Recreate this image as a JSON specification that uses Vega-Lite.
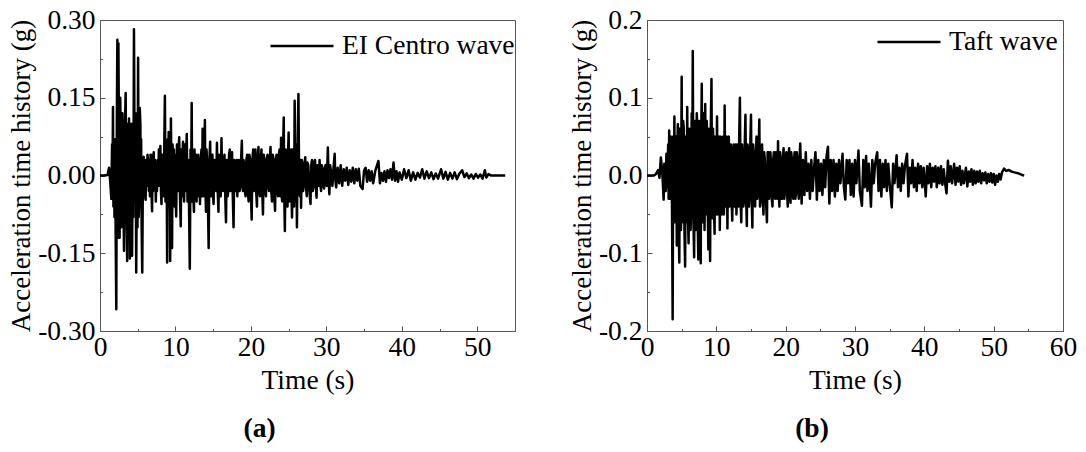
{
  "$schema": "https://vega.github.io/schema/vega-lite/v6.json",
  "background": "white",
  "padding": {"left": 7, "top": 5, "right": 0, "bottom": 0},
  "datasets": {
    "elcentro": [
      {"t":0,"a":0},{"t":0.5,"a":0},{"t":1.0,"a":0.001},{"t":1.2,"a":0.015},{"t":1.35,"a":-0.01},{"t":1.5,"a":-0.045},
      {"t":1.6,"a":0.06},{"t":1.65,"a":-0.03},{"t":1.72,"a":0.132},{"t":1.78,"a":-0.06},{"t":1.85,"a":0.04},{"t":1.92,"a":-0.08},
      {"t":2.0,"a":0.07},{"t":2.08,"a":-0.12},{"t":2.16,"a":-0.258},{"t":2.23,"a":0.1},{"t":2.3,"a":0.262},{"t":2.38,"a":-0.12},
      {"t":2.44,"a":0.255},{"t":2.52,"a":0.05},{"t":2.6,"a":-0.12},{"t":2.68,"a":0.15},{"t":2.75,"a":0.07},{"t":2.82,"a":-0.1},
      {"t":2.9,"a":-0.04},{"t":2.97,"a":0.12},{"t":3.05,"a":0.06},{"t":3.12,"a":-0.06},{"t":3.18,"a":-0.145},{"t":3.28,"a":0.08},
      {"t":3.4,"a":0.159},{"t":3.5,"a":-0.05},{"t":3.6,"a":-0.165},{"t":3.68,"a":0.1},{"t":3.75,"a":0.02},{"t":3.85,"a":0.11},
      {"t":3.96,"a":-0.16},{"t":4.03,"a":0.08},{"t":4.1,"a":0.04},{"t":4.18,"a":0.1},{"t":4.25,"a":-0.155},{"t":4.35,"a":0.05},
      {"t":4.42,"a":-0.08},{"t":4.5,"a":0.282},{"t":4.58,"a":0.06},{"t":4.65,"a":-0.05},{"t":4.72,"a":0.12},{"t":4.8,"a":-0.187},
      {"t":4.9,"a":0.05},{"t":4.97,"a":-0.1},{"t":5.05,"a":0.227},{"t":5.12,"a":-0.08},{"t":5.2,"a":-0.05},{"t":5.27,"a":0.13},
      {"t":5.35,"a":0.1},{"t":5.4,"a":-0.06},{"t":5.45,"a":0.07},{"t":5.52,"a":-0.1},{"t":5.6,"a":-0.187},{"t":5.7,"a":0.03},
      {"t":5.8,"a":0.036},{"t":5.85,"a":-0.03},{"t":5.9,"a":0.02},{"t":5.97,"a":-0.04},{"t":6.05,"a":-0.047},{"t":6.12,"a":0.03},
      {"t":6.2,"a":-0.02},{"t":6.3,"a":0.04},{"t":6.4,"a":0.02},{"t":6.48,"a":-0.03},{"t":6.55,"a":0.03},{"t":6.62,"a":-0.04},
      {"t":6.7,"a":0.04},{"t":6.8,"a":-0.02},{"t":6.9,"a":-0.069},{"t":6.98,"a":0.04},{"t":7.05,"a":-0.03},{"t":7.12,"a":0.045},
      {"t":7.2,"a":-0.01},{"t":7.3,"a":0.03},{"t":7.4,"a":-0.05},{"t":7.48,"a":0.02},{"t":7.55,"a":-0.03},{"t":7.65,"a":0.03},
      {"t":7.72,"a":-0.02},{"t":7.8,"a":0.05},{"t":7.9,"a":-0.02},{"t":8.0,"a":0.057},{"t":8.08,"a":-0.03},{"t":8.15,"a":-0.055},
      {"t":8.22,"a":0.04},{"t":8.3,"a":-0.02},{"t":8.38,"a":0.03},{"t":8.45,"a":-0.04},{"t":8.52,"a":0.06},{"t":8.6,"a":0.154},
      {"t":8.68,"a":-0.05},{"t":8.75,"a":0.02},{"t":8.82,"a":0.06},{"t":8.9,"a":-0.168},{"t":8.97,"a":0.07},{"t":9.05,"a":-0.06},
      {"t":9.1,"a":0.084},{"t":9.18,"a":-0.05},{"t":9.25,"a":0.05},{"t":9.3,"a":-0.165},{"t":9.4,"a":0.11},{"t":9.48,"a":-0.05},
      {"t":9.55,"a":-0.14},{"t":9.62,"a":0.06},{"t":9.7,"a":-0.04},{"t":9.8,"a":0.05},{"t":9.88,"a":-0.06},{"t":9.95,"a":0.04},
      {"t":10.02,"a":-0.03},{"t":10.1,"a":-0.079},{"t":10.2,"a":0.06},{"t":10.3,"a":-0.03},{"t":10.4,"a":0.05},{"t":10.5,"a":0.074},
      {"t":10.6,"a":-0.04},{"t":10.7,"a":-0.098},{"t":10.78,"a":0.05},{"t":10.85,"a":-0.04},{"t":10.92,"a":0.03},{"t":11.0,"a":0.065},
      {"t":11.08,"a":-0.03},{"t":11.15,"a":-0.05},{"t":11.22,"a":0.06},{"t":11.3,"a":-0.03},{"t":11.4,"a":0.04},{"t":11.5,"a":0.08},
      {"t":11.6,"a":-0.05},{"t":11.7,"a":0.03},{"t":11.8,"a":-0.06},{"t":11.9,"a":-0.18},{"t":12.0,"a":0.05},{"t":12.08,"a":-0.02},
      {"t":12.15,"a":0.14},{"t":12.22,"a":-0.05},{"t":12.3,"a":0.03},{"t":12.38,"a":-0.04},{"t":12.45,"a":-0.07},{"t":12.52,"a":0.05},
      {"t":12.6,"a":-0.03},{"t":12.7,"a":0.04},{"t":12.8,"a":-0.05},{"t":12.88,"a":0.03},{"t":12.95,"a":-0.03},{"t":13.02,"a":0.04},
      {"t":13.1,"a":-0.04},{"t":13.18,"a":0.02},{"t":13.25,"a":-0.055},{"t":13.35,"a":0.03},{"t":13.45,"a":0.05},{"t":13.52,"a":-0.04},
      {"t":13.6,"a":0.09},{"t":13.68,"a":-0.04},{"t":13.75,"a":0.03},{"t":13.82,"a":-0.03},{"t":13.9,"a":0.107},{"t":13.98,"a":-0.03},
      {"t":14.05,"a":-0.07},{"t":14.12,"a":0.05},{"t":14.2,"a":0.02},{"t":14.3,"a":-0.05},{"t":14.4,"a":-0.14},{"t":14.5,"a":0.03},
      {"t":14.6,"a":0.065},{"t":14.68,"a":-0.04},{"t":14.75,"a":0.03},{"t":14.82,"a":-0.02},{"t":14.9,"a":0.04},{"t":14.98,"a":-0.04},
      {"t":15.05,"a":-0.055},{"t":15.15,"a":0.03},{"t":15.22,"a":-0.02},{"t":15.3,"a":0.03},{"t":15.4,"a":-0.03},{"t":15.5,"a":0.063},
      {"t":15.6,"a":-0.03},{"t":15.7,"a":-0.07},{"t":15.8,"a":0.04},{"t":15.9,"a":0.03},{"t":16.0,"a":-0.04},{"t":16.1,"a":0.072},
      {"t":16.2,"a":-0.02},{"t":16.3,"a":-0.03},{"t":16.4,"a":0.03},{"t":16.5,"a":0.04},{"t":16.6,"a":-0.04},{"t":16.7,"a":-0.09},
      {"t":16.78,"a":0.03},{"t":16.85,"a":0.01},{"t":16.92,"a":-0.04},{"t":17.0,"a":-0.03},{"t":17.1,"a":0.04},{"t":17.2,"a":0.05},
      {"t":17.28,"a":-0.03},{"t":17.35,"a":-0.02},{"t":17.42,"a":0.03},{"t":17.5,"a":0.045},{"t":17.6,"a":-0.04},{"t":17.7,"a":-0.1},
      {"t":17.8,"a":0.03},{"t":17.9,"a":0.02},{"t":17.98,"a":-0.03},{"t":18.05,"a":-0.01},{"t":18.12,"a":0.03},{"t":18.2,"a":-0.04},
      {"t":18.3,"a":0.02},{"t":18.4,"a":0.03},{"t":18.5,"a":-0.03},{"t":18.6,"a":-0.02},{"t":18.7,"a":0.03},{"t":18.8,"a":0.067},
      {"t":18.88,"a":-0.02},{"t":18.95,"a":-0.03},{"t":19.02,"a":0.03},{"t":19.1,"a":0.02},{"t":19.2,"a":-0.03},{"t":19.3,"a":-0.04},
      {"t":19.4,"a":0.03},{"t":19.5,"a":0.04},{"t":19.6,"a":-0.03},{"t":19.7,"a":-0.05},{"t":19.8,"a":0.04},{"t":19.9,"a":0.03},
      {"t":20.0,"a":-0.03},{"t":20.1,"a":-0.085},{"t":20.2,"a":0.03},{"t":20.3,"a":0.05},{"t":20.38,"a":-0.03},{"t":20.45,"a":-0.02},
      {"t":20.52,"a":0.03},{"t":20.6,"a":0.05},{"t":20.7,"a":-0.03},{"t":20.8,"a":-0.06},{"t":20.9,"a":0.03},{"t":21.0,"a":0.055},
      {"t":21.1,"a":-0.03},{"t":21.2,"a":-0.04},{"t":21.3,"a":0.03},{"t":21.4,"a":0.05},{"t":21.5,"a":-0.03},{"t":21.6,"a":-0.075},
      {"t":21.7,"a":0.04},{"t":21.8,"a":0.03},{"t":21.9,"a":-0.03},{"t":22.0,"a":-0.04},{"t":22.1,"a":0.03},{"t":22.2,"a":0.04},
      {"t":22.3,"a":-0.02},{"t":22.4,"a":-0.03},{"t":22.5,"a":0.03},{"t":22.6,"a":0.055},{"t":22.7,"a":-0.03},{"t":22.8,"a":-0.05},
      {"t":22.9,"a":0.04},{"t":23.0,"a":0.03},{"t":23.1,"a":-0.04},{"t":23.2,"a":-0.068},{"t":23.3,"a":0.03},{"t":23.4,"a":0.04},
      {"t":23.5,"a":-0.03},{"t":23.6,"a":-0.04},{"t":23.7,"a":0.04},{"t":23.8,"a":0.05},{"t":23.9,"a":-0.04},{"t":24.0,"a":0.073},
      {"t":24.08,"a":-0.04},{"t":24.15,"a":-0.05},{"t":24.25,"a":0.04},{"t":24.35,"a":0.112},{"t":24.42,"a":-0.04},{"t":24.5,"a":-0.107},
      {"t":24.6,"a":0.05},{"t":24.7,"a":0.03},{"t":24.78,"a":-0.04},{"t":24.85,"a":-0.06},{"t":24.92,"a":0.04},{"t":25.0,"a":0.083},
      {"t":25.08,"a":-0.05},{"t":25.15,"a":-0.03},{"t":25.22,"a":0.04},{"t":25.3,"a":0.05},{"t":25.38,"a":-0.04},{"t":25.45,"a":-0.081},
      {"t":25.55,"a":0.05},{"t":25.65,"a":0.03},{"t":25.72,"a":-0.06},{"t":25.8,"a":0.144},{"t":25.88,"a":-0.05},{"t":25.95,"a":-0.04},
      {"t":26.02,"a":0.06},{"t":26.1,"a":-0.1},{"t":26.2,"a":0.07},{"t":26.3,"a":0.157},{"t":26.4,"a":-0.03},{"t":26.5,"a":-0.04},
      {"t":26.58,"a":0.03},{"t":26.65,"a":-0.062},{"t":26.75,"a":0.03},{"t":26.85,"a":0.02},{"t":26.92,"a":-0.03},{"t":27.0,"a":-0.02},
      {"t":27.1,"a":0.02},{"t":27.2,"a":0.035},{"t":27.3,"a":-0.02},{"t":27.4,"a":-0.04},{"t":27.5,"a":0.025},{"t":27.6,"a":0.02},
      {"t":27.75,"a":-0.03},{"t":27.9,"a":-0.055},{"t":28.0,"a":0.02},{"t":28.1,"a":0.03},{"t":28.2,"a":-0.03},{"t":28.3,"a":-0.02},
      {"t":28.4,"a":0.025},{"t":28.5,"a":0.03},{"t":28.6,"a":-0.02},{"t":28.7,"a":-0.043},{"t":28.8,"a":0.02},{"t":28.9,"a":0.02},
      {"t":29.0,"a":-0.02},{"t":29.1,"a":0.03},{"t":29.2,"a":-0.015},{"t":29.3,"a":-0.03},{"t":29.4,"a":0.02},{"t":29.5,"a":0.01},
      {"t":29.6,"a":-0.02},{"t":29.7,"a":-0.025},{"t":29.8,"a":0.015},{"t":29.9,"a":0.02},{"t":30.05,"a":-0.02},{"t":30.2,"a":0.054},
      {"t":30.3,"a":-0.01},{"t":30.4,"a":-0.036},{"t":30.5,"a":0.02},{"t":30.6,"a":0.01},{"t":30.7,"a":-0.015},{"t":30.8,"a":-0.02},
      {"t":30.95,"a":0.015},{"t":31.1,"a":0.042},{"t":31.2,"a":-0.01},{"t":31.3,"a":-0.023},{"t":31.5,"a":0.015},
      {"t":31.7,"a":-0.015},{"t":31.9,"a":0.02},{"t":32.1,"a":-0.02},{"t":32.3,"a":0.012},{"t":32.5,"a":-0.01},{"t":32.7,"a":0.015},
      {"t":32.9,"a":-0.018},{"t":33.1,"a":0.01},{"t":33.3,"a":-0.012},{"t":33.5,"a":0.015},{"t":33.7,"a":-0.015},{"t":33.9,"a":0.012},
      {"t":34.1,"a":-0.01},{"t":34.3,"a":0.013},{"t":34.5,"a":-0.02},{"t":34.8,"a":-0.026},{"t":35.0,"a":0.01},{"t":35.2,"a":0.015},
      {"t":35.4,"a":-0.012},{"t":35.6,"a":0.01},{"t":35.8,"a":-0.01},{"t":36.0,"a":0.008},{"t":36.2,"a":-0.015},{"t":36.5,"a":0.01},
      {"t":36.9,"a":0.028},{"t":37.1,"a":-0.015},{"t":37.3,"a":0.005},{"t":37.5,"a":-0.01},{"t":37.7,"a":0.008},{"t":37.9,"a":-0.012},
      {"t":38.1,"a":0.01},{"t":38.3,"a":-0.005},{"t":38.5,"a":0.012},{"t":38.7,"a":-0.008},{"t":38.9,"a":0.025},{"t":39.1,"a":-0.01},
      {"t":39.3,"a":0.008},{"t":39.5,"a":-0.012},{"t":39.7,"a":0.006},{"t":40.0,"a":-0.008},{"t":40.3,"a":0.012},{"t":40.6,"a":-0.005},
      {"t":40.9,"a":0.01},{"t":41.2,"a":-0.01},{"t":41.5,"a":0.006},{"t":41.8,"a":-0.008},{"t":42.1,"a":0.005},{"t":42.4,"a":-0.004},
      {"t":42.7,"a":0.012},{"t":43.0,"a":-0.006},{"t":43.3,"a":0.008},{"t":43.6,"a":-0.005},{"t":43.9,"a":0.006},{"t":44.2,"a":-0.007},
      {"t":44.5,"a":0.004},{"t":44.8,"a":-0.006},{"t":45.2,"a":0.012},{"t":45.5,"a":-0.006},{"t":45.8,"a":0.007},{"t":46.1,"a":-0.008},
      {"t":46.4,"a":0.005},{"t":46.7,"a":-0.006},{"t":47.0,"a":0.006},{"t":47.3,"a":-0.007},{"t":47.6,"a":0.003},{"t":48.0,"a":0.01},
      {"t":48.3,"a":-0.003},{"t":48.6,"a":0.004},{"t":48.9,"a":-0.005},{"t":49.2,"a":0.002},{"t":49.5,"a":-0.006},{"t":49.8,"a":0.003},
      {"t":50.1,"a":-0.004},{"t":50.4,"a":0.002},{"t":50.7,"a":-0.006},{"t":51.0,"a":0.01},{"t":51.2,"a":-0.004},{"t":51.5,"a":0.003},
      {"t":51.8,"a":0.0},{"t":52.5,"a":0.0},{"t":53.7,"a":0.0}
    ],
    "taft": [
      {"t":0,"a":0},{"t":1.0,"a":0},{"t":1.3,"a":0.002},{"t":1.6,"a":0.007},{"t":1.8,"a":-0.003},{"t":2.0,"a":0.023},
      {"t":2.2,"a":0.005},{"t":2.4,"a":-0.031},{"t":2.5,"a":0.015},{"t":2.6,"a":0.01},{"t":2.7,"a":-0.02},{"t":2.8,"a":0.028},
      {"t":2.88,"a":-0.015},{"t":2.95,"a":-0.01},{"t":3.05,"a":0.04},{"t":3.12,"a":-0.03},{"t":3.2,"a":0.058},{"t":3.3,"a":-0.03},
      {"t":3.4,"a":-0.02},{"t":3.48,"a":0.05},{"t":3.55,"a":0.03},{"t":3.62,"a":-0.06},{"t":3.7,"a":-0.185},{"t":3.78,"a":0.05},
      {"t":3.87,"a":-0.04},{"t":3.95,"a":0.076},{"t":4.03,"a":-0.06},{"t":4.1,"a":-0.04},{"t":4.2,"a":0.05},{"t":4.3,"a":-0.09},
      {"t":4.38,"a":0.04},{"t":4.45,"a":0.066},{"t":4.55,"a":-0.05},{"t":4.66,"a":-0.112},{"t":4.73,"a":0.06},{"t":4.8,"a":0.03},
      {"t":4.9,"a":-0.07},{"t":5.0,"a":0.127},{"t":5.08,"a":-0.06},{"t":5.15,"a":-0.04},{"t":5.22,"a":0.07},{"t":5.3,"a":0.06},
      {"t":5.4,"a":-0.07},{"t":5.5,"a":-0.117},{"t":5.58,"a":0.05},{"t":5.65,"a":0.02},{"t":5.72,"a":-0.06},{"t":5.8,"a":0.088},
      {"t":5.9,"a":-0.05},{"t":6.0,"a":-0.087},{"t":6.1,"a":0.06},{"t":6.2,"a":0.04},{"t":6.28,"a":-0.07},{"t":6.35,"a":-0.05},
      {"t":6.45,"a":0.08},{"t":6.52,"a":-0.04},{"t":6.6,"a":0.16},{"t":6.7,"a":-0.06},{"t":6.8,"a":-0.105},{"t":6.88,"a":0.07},
      {"t":6.95,"a":0.05},{"t":7.02,"a":-0.07},{"t":7.1,"a":-0.03},{"t":7.18,"a":0.08},{"t":7.25,"a":0.06},{"t":7.32,"a":-0.06},
      {"t":7.4,"a":-0.108},{"t":7.5,"a":0.07},{"t":7.6,"a":0.03},{"t":7.68,"a":-0.06},{"t":7.75,"a":-0.113},{"t":7.82,"a":0.05},
      {"t":7.9,"a":0.118},{"t":7.98,"a":-0.06},{"t":8.05,"a":-0.03},{"t":8.12,"a":0.08},{"t":8.2,"a":0.05},{"t":8.3,"a":-0.07},
      {"t":8.4,"a":0.092},{"t":8.48,"a":-0.05},{"t":8.55,"a":-0.04},{"t":8.62,"a":0.07},{"t":8.7,"a":0.04},{"t":8.78,"a":-0.05},
      {"t":8.85,"a":-0.095},{"t":8.92,"a":0.06},{"t":9.0,"a":0.05},{"t":9.05,"a":-0.06},{"t":9.1,"a":-0.11},{"t":9.2,"a":0.06},
      {"t":9.3,"a":0.124},{"t":9.38,"a":-0.04},{"t":9.45,"a":-0.055},{"t":9.52,"a":0.06},{"t":9.6,"a":0.02},{"t":9.68,"a":-0.05},
      {"t":9.75,"a":-0.075},{"t":9.82,"a":0.05},{"t":9.9,"a":0.04},{"t":10.0,"a":-0.05},{"t":10.1,"a":0.076},{"t":10.2,"a":-0.05},
      {"t":10.3,"a":-0.03},{"t":10.4,"a":0.05},{"t":10.5,"a":-0.07},{"t":10.6,"a":0.05},{"t":10.7,"a":0.03},{"t":10.78,"a":-0.05},
      {"t":10.85,"a":-0.01},{"t":10.92,"a":0.05},{"t":11.0,"a":0.05},{"t":11.1,"a":-0.05},{"t":11.2,"a":0.09},{"t":11.3,"a":-0.03},
      {"t":11.4,"a":-0.04},{"t":11.5,"a":0.05},{"t":11.6,"a":-0.068},{"t":11.7,"a":0.04},{"t":11.8,"a":0.05},{"t":11.9,"a":-0.04},
      {"t":12.0,"a":0.02},{"t":12.1,"a":0.04},{"t":12.2,"a":-0.03},{"t":12.3,"a":-0.058},{"t":12.4,"a":0.03},{"t":12.5,"a":0.04},
      {"t":12.6,"a":-0.04},{"t":12.7,"a":-0.02},{"t":12.8,"a":0.04},{"t":12.9,"a":-0.05},{"t":13.0,"a":0.04},{"t":13.1,"a":0.03},
      {"t":13.2,"a":-0.04},{"t":13.3,"a":0.05},{"t":13.4,"a":0.1},{"t":13.5,"a":-0.03},{"t":13.6,"a":-0.06},{"t":13.7,"a":0.04},
      {"t":13.8,"a":0.02},{"t":13.9,"a":-0.04},{"t":14.0,"a":-0.03},{"t":14.1,"a":0.04},{"t":14.2,"a":0.078},{"t":14.3,"a":-0.03},
      {"t":14.4,"a":-0.065},{"t":14.5,"a":0.04},{"t":14.6,"a":0.03},{"t":14.7,"a":-0.04},{"t":14.8,"a":-0.02},{"t":14.9,"a":0.04},
      {"t":15.0,"a":0.078},{"t":15.1,"a":-0.03},{"t":15.2,"a":-0.067},{"t":15.3,"a":0.04},{"t":15.4,"a":0.02},{"t":15.5,"a":-0.03},
      {"t":15.6,"a":-0.04},{"t":15.7,"a":0.03},{"t":15.8,"a":0.05},{"t":15.9,"a":-0.03},{"t":16.0,"a":-0.02},{"t":16.1,"a":0.03},
      {"t":16.2,"a":0.072},{"t":16.3,"a":-0.04},{"t":16.4,"a":-0.03},{"t":16.5,"a":0.03},{"t":16.6,"a":0.04},{"t":16.7,"a":-0.03},
      {"t":16.8,"a":-0.05},{"t":16.9,"a":0.03},{"t":17.0,"a":0.02},{"t":17.15,"a":-0.03},{"t":17.3,"a":-0.06},{"t":17.4,"a":0.03},
      {"t":17.5,"a":0.03},{"t":17.6,"a":-0.03},{"t":17.7,"a":-0.02},{"t":17.8,"a":0.03},{"t":17.9,"a":0.01},{"t":18.0,"a":-0.03},
      {"t":18.1,"a":-0.04},{"t":18.2,"a":0.02},{"t":18.3,"a":0.03},{"t":18.4,"a":-0.02},{"t":18.5,"a":-0.03},{"t":18.6,"a":0.03},
      {"t":18.7,"a":0.02},{"t":18.8,"a":-0.03},{"t":18.9,"a":0.044},{"t":19.0,"a":-0.02},{"t":19.1,"a":-0.04},{"t":19.2,"a":0.03},
      {"t":19.3,"a":0.02},{"t":19.4,"a":-0.03},{"t":19.5,"a":-0.03},{"t":19.6,"a":0.02},{"t":19.7,"a":0.035},{"t":19.8,"a":-0.03},
      {"t":19.9,"a":-0.02},{"t":20.0,"a":0.02},{"t":20.1,"a":0.03},{"t":20.2,"a":-0.02},{"t":20.3,"a":-0.04},{"t":20.4,"a":0.02},
      {"t":20.5,"a":0.035},{"t":20.6,"a":-0.02},{"t":20.7,"a":-0.035},{"t":20.8,"a":0.03},{"t":20.9,"a":0.02},{"t":21.0,"a":-0.02},
      {"t":21.1,"a":-0.03},{"t":21.2,"a":0.02},{"t":21.3,"a":0.03},{"t":21.4,"a":-0.03},{"t":21.5,"a":-0.02},{"t":21.6,"a":0.03},
      {"t":21.7,"a":0.02},{"t":21.8,"a":-0.02},{"t":21.9,"a":-0.03},{"t":22.0,"a":0.02},{"t":22.1,"a":0.041},{"t":22.3,"a":-0.036},
      {"t":22.5,"a":0.02},{"t":22.7,"a":-0.025},{"t":22.9,"a":0.03},{"t":23.1,"a":-0.02},{"t":23.3,"a":0.015},{"t":23.5,"a":-0.03},
      {"t":23.7,"a":0.02},{"t":23.9,"a":-0.02},{"t":24.1,"a":0.01},{"t":24.3,"a":0.03},{"t":24.5,"a":-0.031},{"t":24.7,"a":0.02},
      {"t":24.9,"a":-0.02},{"t":25.1,"a":0.015},{"t":25.3,"a":-0.025},{"t":25.5,"a":0.02},{"t":25.7,"a":-0.015},{"t":25.9,"a":0.025},
      {"t":26.1,"a":0.037},{"t":26.3,"a":-0.036},{"t":26.5,"a":0.02},{"t":26.7,"a":-0.02},{"t":26.9,"a":0.02},{"t":27.1,"a":-0.027},
      {"t":27.3,"a":0.015},{"t":27.5,"a":-0.02},{"t":27.7,"a":0.02},{"t":27.9,"a":-0.01},{"t":28.2,"a":0.028},{"t":28.4,"a":-0.015},
      {"t":28.6,"a":-0.031},{"t":28.8,"a":0.02},{"t":29.0,"a":-0.01},{"t":29.2,"a":0.02},{"t":29.4,"a":-0.025},{"t":29.6,"a":0.015},
      {"t":29.8,"a":-0.027},{"t":30.0,"a":0.02},{"t":30.2,"a":-0.01},{"t":30.5,"a":0.032},{"t":30.7,"a":-0.02},{"t":31.0,"a":-0.039},
      {"t":31.2,"a":0.02},{"t":31.4,"a":-0.015},{"t":31.6,"a":0.025},{"t":31.8,"a":-0.02},{"t":32.0,"a":0.015},{"t":32.3,"a":-0.04},
      {"t":32.5,"a":0.02},{"t":32.7,"a":-0.01},{"t":32.9,"a":0.015},{"t":33.2,"a":0.03},{"t":33.4,"a":-0.02},{"t":33.6,"a":0.02},
      {"t":33.8,"a":-0.027},{"t":34.0,"a":0.015},{"t":34.2,"a":-0.015},{"t":34.4,"a":0.02},{"t":34.6,"a":-0.02},{"t":34.8,"a":0.015},
      {"t":35.0,"a":-0.01},{"t":35.3,"a":-0.041},{"t":35.5,"a":0.015},{"t":35.7,"a":-0.01},{"t":36.0,"a":0.026},{"t":36.2,"a":-0.015},
      {"t":36.4,"a":0.01},{"t":36.6,"a":-0.02},{"t":36.8,"a":0.015},{"t":37.0,"a":-0.01},{"t":37.2,"a":0.012},{"t":37.5,"a":0.028},
      {"t":37.7,"a":-0.027},{"t":37.9,"a":0.01},{"t":38.1,"a":-0.01},{"t":38.3,"a":0.02},{"t":38.5,"a":-0.015},{"t":38.7,"a":0.01},
      {"t":38.9,"a":-0.02},{"t":39.1,"a":0.015},{"t":39.3,"a":-0.01},{"t":39.5,"a":0.012},{"t":39.7,"a":-0.015},{"t":39.9,"a":0.01},
      {"t":40.2,"a":-0.027},{"t":40.4,"a":0.012},{"t":40.6,"a":-0.01},{"t":40.8,"a":0.015},{"t":41.0,"a":-0.015},{"t":41.2,"a":0.01},
      {"t":41.4,"a":-0.008},{"t":41.6,"a":0.012},{"t":41.8,"a":-0.015},{"t":42.0,"a":0.01},{"t":42.2,"a":-0.01},{"t":42.4,"a":0.012},
      {"t":42.6,"a":-0.012},{"t":42.8,"a":0.008},{"t":43.0,"a":-0.01},{"t":43.2,"a":-0.023},{"t":43.4,"a":0.019},{"t":43.6,"a":-0.008},
      {"t":43.8,"a":0.012},{"t":44.0,"a":-0.01},{"t":44.3,"a":0.015},{"t":44.5,"a":-0.012},{"t":44.7,"a":0.01},{"t":44.9,"a":-0.008},
      {"t":45.1,"a":0.012},{"t":45.3,"a":-0.012},{"t":45.5,"a":0.006},{"t":45.7,"a":-0.01},{"t":46.0,"a":0.01},{"t":46.2,"a":-0.014},
      {"t":46.4,"a":0.005},{"t":46.6,"a":-0.008},{"t":46.8,"a":0.008},{"t":47.0,"a":-0.012},{"t":47.2,"a":0.006},{"t":47.4,"a":-0.01},
      {"t":47.6,"a":0.005},{"t":47.8,"a":-0.008},{"t":48.0,"a":0.006},{"t":48.2,"a":-0.01},{"t":48.4,"a":0.003},{"t":48.6,"a":-0.006},
      {"t":48.8,"a":0.004},{"t":49.0,"a":-0.01},{"t":49.2,"a":0.002},{"t":49.4,"a":-0.008},{"t":49.6,"a":0.003},{"t":49.8,"a":-0.009},
      {"t":50.0,"a":0.002},{"t":50.2,"a":-0.012},{"t":50.4,"a":0.0},{"t":50.6,"a":-0.008},{"t":50.8,"a":0.002},{"t":51.0,"a":-0.005},
      {"t":51.2,"a":0.004},{"t":51.5,"a":0.009},{"t":51.8,"a":0.006},{"t":52.2,"a":0.007},{"t":52.6,"a":0.005},{"t":53.0,"a":0.004},
      {"t":53.5,"a":0.003},{"t":54.0,"a":0.001},{"t":54.4,"a":0.0}
    ]
  },
  "hconcat": [
    {
      "width": 415,
      "height": 311,
      "data": {"name": "elcentro"},
      "title": {"text": "(a)", "orient": "bottom", "dx": -48, "offset": 21, "fontWeight": "bold"},
      "mark": {"type": "line", "strokeWidth": 2.5, "strokeJoin": "round", "clip": true},
      "encoding": {
        "x": {
          "field": "t",
          "type": "quantitative",
          "scale": {"domain": [0, 55], "nice": false},
          "axis": {
            "title": "Time (s)",
            "values": [0, 5, 10, 15, 20, 25, 30, 35, 40, 45, 50, 55],
            "labelExpr": "datum.value % 10 === 0 ? datum.label : ''",
            "tickSize": {"condition": {"test": "datum.value % 10 === 0", "value": -5}, "value": -2.5}
          }
        },
        "y": {
          "field": "a",
          "type": "quantitative",
          "scale": {"domain": [-0.3, 0.3], "nice": false, "zero": false},
          "axis": {
            "title": "Acceleration time history (g)",
            "values": [-0.3, -0.225, -0.15, -0.075, 0, 0.075, 0.15, 0.225, 0.3],
            "labelExpr": "abs(round(datum.value * 1000)) % 150 === 0 ? (datum.value < 0 ? '-' : '') + format(abs(datum.value), '.2f') : ''",
            "tickSize": {"condition": {"test": "abs(round(datum.value * 1000)) % 150 === 0", "value": -5}, "value": -2.5}
          }
        },
        "color": {
          "datum": "EI Centro wave",
          "scale": {"range": ["black"]},
          "legend": {"orient": "none", "legendX": 169, "legendY": -7}
        }
      }
    },
    {
      "width": 416,
      "height": 311,
      "data": {"name": "taft"},
      "title": {"text": "(b)", "orient": "bottom", "dx": -43, "offset": 21, "fontWeight": "bold"},
      "mark": {"type": "line", "strokeWidth": 2.5, "strokeJoin": "round", "clip": true},
      "encoding": {
        "x": {
          "field": "t",
          "type": "quantitative",
          "scale": {"domain": [0, 60], "nice": false},
          "axis": {
            "title": "Time (s)",
            "values": [0, 5, 10, 15, 20, 25, 30, 35, 40, 45, 50, 55, 60],
            "labelExpr": "datum.value % 10 === 0 ? datum.label : ''",
            "tickSize": {"condition": {"test": "datum.value % 10 === 0", "value": -5}, "value": -2.5}
          }
        },
        "y": {
          "field": "a",
          "type": "quantitative",
          "scale": {"domain": [-0.2, 0.2], "nice": false, "zero": false},
          "axis": {
            "title": "Acceleration time history (g)",
            "values": [-0.2, -0.15, -0.1, -0.05, 0, 0.05, 0.1, 0.15, 0.2],
            "labelExpr": "abs(round(datum.value * 100)) % 10 === 0 ? (datum.value < 0 ? '-' : '') + format(abs(datum.value), '.1f') : ''",
            "tickSize": {"condition": {"test": "abs(round(datum.value * 100)) % 10 === 0", "value": -5}, "value": -2.5}
          }
        },
        "color": {
          "datum": "Taft wave",
          "scale": {"range": ["black"]},
          "legend": {"orient": "none", "legendX": 229, "legendY": -11}
        }
      }
    }
  ],
  "resolve": {"scale": {"color": "independent"}},
  "spacing": 51,
  "config": {
    "font": "Liberation Serif",
    "view": {"stroke": "#555", "strokeWidth": 1},
    "title": {"font": "Liberation Serif", "fontSize": 27.5, "color": "black"},
    "axis": {
      "grid": false,
      "domainColor": "#555",
      "tickColor": "#555",
      "labelFont": "Liberation Serif",
      "labelFontSize": 27.5,
      "labelColor": "black",
      "labelFlush": false,
      "labelOverlap": false,
      "titleFont": "Liberation Serif",
      "titleFontSize": 27.5,
      "titleFontWeight": "normal",
      "titleColor": "black"
    },
    "axisX": {"labelPadding": 7, "titlePadding": 3},
    "axisY": {"labelPadding": 10, "titlePadding": 2, "titleFontSize": 27},
    "legend": {
      "title": null,
      "padding": 0,
      "symbolType": "stroke",
      "symbolStrokeWidth": 2.5,
      "symbolSize": 3969,
      "symbolStrokeColor": "black",
      "labelFont": "Liberation Serif",
      "labelFontSize": 27.5,
      "labelColor": "black",
      "labelOffset": 7,
      "labelLimit": 400
    }
  }
}
